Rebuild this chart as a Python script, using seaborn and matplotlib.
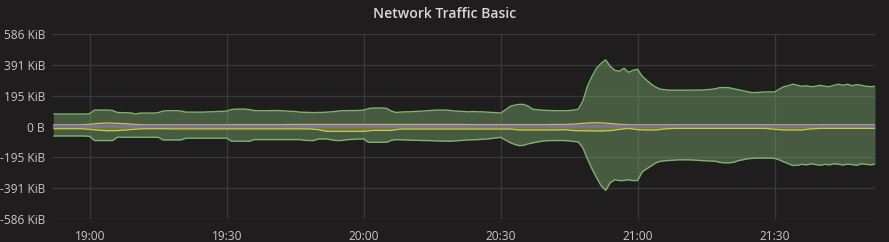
import numpy as np
import pandas as pd
import matplotlib
matplotlib.use("Agg")
import matplotlib.pyplot as plt
import matplotlib.dates as mdates
import seaborn as sns

# ---------------- data (KiB) ----------------
title = "Network Traffic Basic"
start_time = "2024-01-01 18:52"

# 1-minute samples, green series: inbound (positive) / outbound (drawn negative)
green_in_kib = [
    79, 79, 79, 79, 79, 79, 79, 79, 82, 104,
    104, 104, 104, 101, 89, 88, 87, 86, 79, 85,
    85, 85, 85, 88, 98, 100, 100, 100, 98, 91,
    91, 91, 91, 91, 93, 93, 95, 96, 98, 107,
    110, 110, 110, 107, 101, 100, 100, 100, 101, 101,
    100, 98, 96, 95, 91, 90, 89, 88, 89, 89,
    91, 93, 96, 100, 100, 101, 101, 102, 104, 113,
    117, 117, 117, 115, 98, 89, 91, 93, 93, 95,
    96, 98, 100, 102, 104, 104, 104, 101, 98, 96,
    95, 93, 95, 93, 93, 91, 89, 88, 85, 104,
    126, 135, 140, 140, 129, 110, 106, 104, 102, 101,
    100, 100, 100, 101, 104, 110, 161, 255, 318, 369,
    400, 422, 381, 356, 350, 369, 343, 356, 362, 318,
    293, 268, 249, 236, 233, 230, 230, 230, 230, 230,
    230, 231, 230, 233, 235, 239, 246, 247, 246, 239,
    233, 227, 221, 215, 215, 217, 219, 219, 219, 236,
    252, 258, 268, 261, 255, 258, 252, 255, 261, 255,
    252, 261, 268, 261, 268, 258, 265, 261, 255, 252,
    255,
]
green_out_kib = [
    60, 60, 60, 60, 60, 60, 60, 60, 63, 89,
    89, 89, 89, 89, 68, 68, 68, 68, 68, 68,
    68, 68, 68, 68, 85, 85, 85, 85, 85, 74,
    74, 74, 74, 74, 74, 74, 74, 74, 74, 93,
    93, 93, 93, 93, 83, 83, 83, 83, 83, 83,
    83, 83, 83, 83, 83, 87, 89, 89, 79, 79,
    79, 85, 89, 89, 85, 82, 81, 79, 79, 100,
    100, 100, 100, 100, 88, 83, 84, 85, 86, 87,
    88, 89, 89, 90, 91, 92, 93, 93, 91, 89,
    87, 85, 84, 83, 81, 79, 76, 72, 69, 85,
    101, 113, 121, 120, 110, 104, 98, 93, 90, 89,
    89, 89, 89, 91, 95, 98, 135, 205, 268, 324,
    375, 404, 356, 337, 343, 342, 337, 343, 342, 287,
    268, 249, 230, 220, 217, 215, 213, 211, 211, 211,
    212, 214, 216, 217, 219, 220, 227, 230, 230, 227,
    217, 211, 205, 202, 200, 200, 200, 200, 202, 211,
    224, 236, 247, 246, 239, 243, 236, 241, 246, 239,
    243, 236, 239, 244, 238, 241, 246, 236, 239, 243,
    239,
]

# 2-minute samples, yellow and purple series
yellow_in_kib = [
    11, 11, 11, 11, 14, 20, 22, 20, 17, 13,
    11, 11, 11, 11, 11, 11, 11, 11, 11, 11,
    12, 12, 12, 12, 12, 12, 13, 13, 13, 13,
    13, 13, 13, 13, 13, 13, 13, 13, 13, 13,
    13, 13, 13, 13, 13, 13, 12, 12, 12, 12,
    12, 12, 12, 12, 12, 13, 13, 15, 20, 24,
    23, 19, 14, 11, 11, 11, 11, 11, 11, 11,
    11, 11, 11, 11, 11, 11, 11, 11, 11, 11,
    11, 11, 11, 11, 11, 11, 11, 11, 11, 11,
    11,
]
yellow_out_kib = [
    14, 14, 14, 14, 18, 24, 27, 26, 22, 17,
    14, 14, 14, 15, 15, 15, 15, 15, 15, 15,
    15, 15, 15, 15, 15, 15, 15, 15, 15, 20,
    31, 31, 31, 31, 31, 25, 25, 25, 16, 16,
    16, 16, 16, 16, 16, 16, 16, 16, 16, 16,
    16, 22, 22, 22, 22, 22, 20, 26, 27, 28,
    28, 26, 18, 12, 20, 22, 22, 15, 12, 12,
    12, 12, 12, 12, 12, 12, 12, 12, 12, 18,
    22, 22, 22, 15, 12, 12, 12, 12, 12, 12,
    12,
]
purple_kib = [
    5, 5, 5, 5, 5, 5, 5, 5, 5, 5,
    5, 5, 5, 5, 5, 5, 5, 5, 5, 5,
    5, 5, 5, 5, 5, 5, 5, 5, 5, 5,
    5, 5, 5, 5, 5, 5, 5, 5, 5, 5,
    5, 5, 5, 5, 5, 5, 5, 5, 5, 5,
    5, 5, 5, 5, 5, 5, 5, 5, 5, 5,
    5, 5, 5, 5, 5, 5, 5, 5, 5, 5,
    5, 5, 5, 5, 5, 5, 5, 5, 5, 5,
    5, 5, 5, 5, 5, 5, 5, 5, 5, 5,
    5,
]

y_tick_bytes = [-600000, -400000, -200000, 0, 200000, 400000, 600000]
x_tick_labels = ["19:00", "19:30", "20:00", "20:30", "21:00", "21:30"]

# ---------------- styling ----------------
BG = "#1f1d1e"
GRID = "#3b3a3b"
TEXT = "#c7c8c9"
GREEN = "#7eb26d"
YELLOW_LINE = "#cdc84a"
YELLOW_FILL = "#b8b040"
PURPLE = "#7d6bb3"

sns.set_theme(style="dark")
plt.rcParams["font.family"] = ["Open Sans", "DejaVu Sans"]

fig = plt.figure(figsize=(8.89, 2.42), dpi=100, facecolor=BG)
ax = fig.add_axes([52 / 889, 1 - 219 / 242, (875 - 52) / 889, (219 - 34) / 242])
ax.set_facecolor(BG)

t1 = pd.date_range(start_time, periods=len(green_in_kib), freq="1min")
t2 = pd.date_range(start_time, periods=len(yellow_in_kib), freq="2min")

g_in = np.array(green_in_kib, dtype=float)
g_out = -np.array(green_out_kib, dtype=float)
y_in = np.array(yellow_in_kib, dtype=float)
y_out = -np.array(yellow_out_kib, dtype=float)
p = np.array(purple_kib, dtype=float)


def line(x, y, color, lw, z):
    before = len(ax.lines)
    sns.lineplot(x=x, y=y, ax=ax, color=color, linewidth=lw)
    for ln in ax.lines[before:]:
        ln.set_zorder(z)
        ln.set_color(color)
        ln.set_solid_capstyle("butt")


# green
ax.fill_between(t1, 0, g_in, color=GREEN, alpha=0.42, linewidth=0, zorder=2)
ax.fill_between(t1, 0, g_out, color=GREEN, alpha=0.42, linewidth=0, zorder=2)
line(t1, g_in, GREEN, 1.0, 3)
line(t1, g_out, GREEN, 1.0, 3)
# yellow
ax.fill_between(t2, 0, y_in, color=YELLOW_FILL, alpha=0.35, linewidth=0, zorder=4)
ax.fill_between(t2, 0, y_out, color=YELLOW_FILL, alpha=0.35, linewidth=0, zorder=4)
line(t2, y_in, YELLOW_LINE, 0.9, 5)
line(t2, y_out, YELLOW_LINE, 0.9, 5)
# purple (on top)
line(t2, p, PURPLE, 1.7, 10)

# axes
ymax = 600000 / 1024
ax.set_ylim(-ymax, ymax)
ax.set_xlim(t1[0] - pd.Timedelta(seconds=18), t1[-1])
yt = [b / 1024 for b in y_tick_bytes]
ax.set_yticks(yt)
ax.set_yticklabels(["0 B" if v == 0 else f"{int(round(v))} KiB" for v in yt])
xt = [pd.Timestamp(start_time[:10] + " " + s) for s in x_tick_labels]
ax.set_xticks(mdates.date2num(xt))
ax.set_xticklabels(x_tick_labels)

ax.grid(True, color=GRID, linewidth=0.9, zorder=0)
ax.set_axisbelow(True)
for s in ax.spines.values():
    s.set_visible(False)
ax.tick_params(axis="both", length=0, colors=TEXT, labelsize=8.6)
ax.tick_params(axis="y", pad=5)
ax.tick_params(axis="x", pad=8)
ax.set_xlabel("")
ax.set_ylabel("")

fig.text(0.5, 1 - 14 / 242, title, ha="center", va="center",
         color="#d8d9da", fontsize=10.1, fontweight="semibold")

fig.savefig("out.png", dpi=100, facecolor=BG)
